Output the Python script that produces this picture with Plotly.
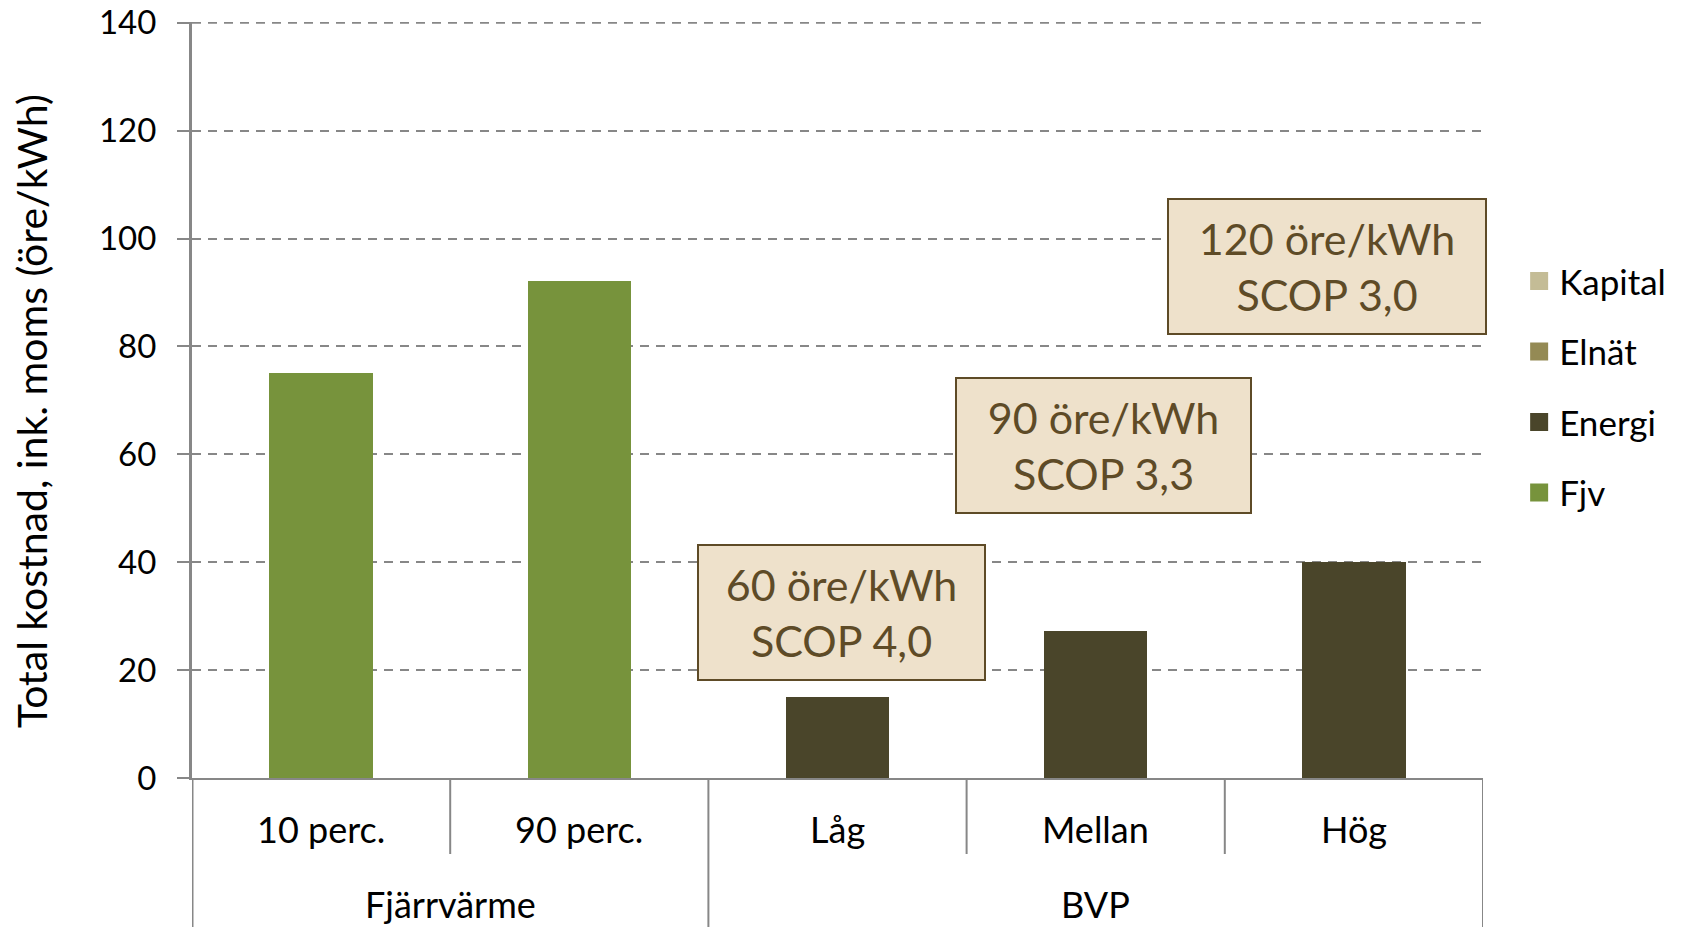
import plotly.graph_objects as go

# ---- data ----
categories = ["10 perc.", "90 perc.", "Låg", "Mellan", "Hög"]
groups = ["Fjärrvärme", "Fjärrvärme", "BVP", "BVP", "BVP"]
series_names = ["Kapital", "Elnät", "Energi", "Fjv"]
kapital = [0, 0, 0, 0, 0]
elnat = [0, 0, 0, 0, 0]
energi = [0, 0, 15, 27.2, 40]
fjv = [75, 92.2, 0, 0, 0]
series_colors = ["#C4BC96", "#948A54", "#4A452A", "#77933C"]

box_texts = ["60 öre/kWh<br>SCOP 4,0", "90 öre/kWh<br>SCOP 3,3", "120 öre/kWh<br>SCOP 3,0"]
box_x = [2.015, 3.03, 3.895]
box_y = [30.6, 61.6, 94.9]
box_w = [285, 293, 316]

y_ticks = [0, 20, 40, 60, 80, 100, 120, 140]

FONT = "Lato"
TXT = "#000000"
GRID = "#878787"

fig = go.Figure()
values = [kapital, elnat, energi, fjv]
# stacked bars (bottom -> top: Fjv, Energi, Elnät, Kapital)
for name, vals, col in reversed(list(zip(series_names, values, series_colors))):
    fig.add_trace(go.Bar(x=categories, y=vals, name=name, marker=dict(color=col, line=dict(width=0)),
                         showlegend=False))
# legend entries
for name, col in zip(series_names, series_colors):
    fig.add_trace(go.Scatter(x=[None], y=[None], mode="markers", name=name, legendgroup=name,
                             marker=dict(symbol="square", size=16, color=col,
                                         line=dict(color=col, width=2))))

# page body has an 8px margin, so the figure is drawn 8px smaller and offset
W, H = 1673, 919
L, T = 184, 14
PW, PH = 1291, 756
R = W - L - PW
B = H - T - PH

fig.update_layout(
    width=W, height=H,
    margin=dict(l=L, r=R, t=T, b=B, autoexpand=False),
    barmode="stack", bargap=0.6,
    plot_bgcolor="white", paper_bgcolor="white",
    font=dict(family=FONT, color=TXT, size=36),
    showlegend=True,
    legend=dict(x=1.028, y=0.696, xanchor="left", yanchor="top", traceorder="grouped",
                tracegroupgap=22, font=dict(size=35, family=FONT), bgcolor="rgba(0,0,0,0)"),
)
fig.update_yaxes(range=[0, 140.15], tickvals=y_ticks, ticks="outside", ticklen=12, tickcolor=GRID,
                 tickwidth=2, showgrid=True, gridcolor=GRID, gridwidth=2, griddash="9px,7px",
                 showline=True, linecolor=GRID, linewidth=3, zeroline=False, automargin=False,
                 ticklabeloverflow="allow",
                 tickfont=dict(size=33, family=FONT), ticklabelstandoff=14)
fig.update_xaxes(range=[-0.5, 4.5], showticklabels=False, ticks="", showline=True, linecolor=GRID,
                 linewidth=2, showgrid=False, categoryorder="array", categoryarray=categories,
                 automargin=False)

# top gridline (plotly omits the grid line at the range edge)
fig.add_shape(type="line", xref="x", yref="y", x0=-0.5, x1=len(categories) - 0.5,
              y0=y_ticks[-1], y1=y_ticks[-1], layer="below",
              line=dict(color=GRID, width=2, dash="9px,7px"))

# y-axis title
fig.add_annotation(text="Total kostnad, ink. moms (öre/kWh)", textangle=-90, xref="paper", yref="paper",
                   x=(24 - L) / PW, y=0.4855, xanchor="center", yanchor="middle",
                   showarrow=False, font=dict(size=41, family=FONT, color=TXT))

# sub-category labels
for i, c in enumerate(categories):
    fig.add_annotation(text=c, x=i, xref="x", y=-51 / PH, yref="paper", showarrow=False,
                       xanchor="center", yanchor="middle", font=dict(size=36, family=FONT, color=TXT))
# group labels and dividers
grp_bounds = []
start = 0
for i in range(1, len(groups) + 1):
    if i == len(groups) or groups[i] != groups[start]:
        grp_bounds.append((start, i - 1, groups[start]))
        start = i
for s, e, g in grp_bounds:
    fig.add_annotation(text=g, x=(s + e) / 2, xref="x", y=-126 / PH, yref="paper", showarrow=False,
                       xanchor="center", yanchor="middle", font=dict(size=36, family=FONT, color=TXT))
    fig.add_shape(type="line", xref="x", yref="paper", x0=e + 0.5, x1=e + 0.5, y0=0, y1=-B / PH,
                  line=dict(color=GRID, width=2))
    for k in range(s, e):
        fig.add_shape(type="line", xref="x", yref="paper", x0=k + 0.5, x1=k + 0.5, y0=0, y1=-76 / PH,
                      line=dict(color=GRID, width=2))
# y axis extension below
fig.add_shape(type="line", xref="x", yref="paper", x0=-0.5, x1=-0.5, y0=0, y1=-B / PH,
              line=dict(color=GRID, width=3))

# text boxes
for t, bx, by, bw in zip(box_texts, box_x, box_y, box_w):
    fig.add_annotation(text=t, x=bx, y=by, xref="x", yref="y", showarrow=False, xanchor="center",
                       yanchor="middle", width=bw, height=133, align="center", bgcolor="#EEE1CB",
                       bordercolor="#5E4B27", borderwidth=2, borderpad=0,
                       font=dict(size=43, family=FONT, color="#5E4B27"))

fig.write_html("out.html")
